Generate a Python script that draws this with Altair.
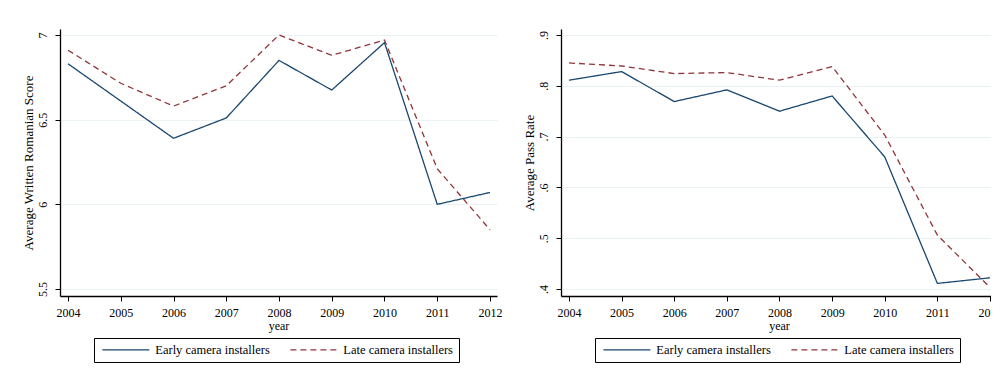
import altair as alt
import pandas as pd

years = [2004, 2005, 2006, 2007, 2008, 2009, 2010, 2011, 2012]
groups = ["Early camera installers", "Late camera installers"]

early_score = [6.83, 6.61, 6.39, 6.51, 6.85, 6.675, 6.955, 6.00, 6.07]
late_score = [6.91, 6.715, 6.58, 6.70, 7.00, 6.88, 6.97, 6.21, 5.85]

early_pass = [0.811, 0.828, 0.769, 0.792, 0.750, 0.780, 0.660, 0.411, 0.422]
late_pass = [0.845, 0.839, 0.824, 0.826, 0.811, 0.838, 0.703, 0.506, 0.403]

score_ticks = [5.5, 6, 6.5, 7]
pass_ticks = [0.4, 0.5, 0.6, 0.7, 0.8, 0.9]

FONT = "Liberation Serif"
COLORS = ["#1a476f", "#90353b"]


def long_table(early, late):
    rows = []
    for yr, e, l in zip(years, early, late):
        rows.append({"year": yr, "group": groups[0], "value": e})
        rows.append({"year": yr, "group": groups[1], "value": l})
    return pd.DataFrame(rows)


def make_legend():
    return alt.Legend(
        title=None, orient="none", legendX=34, legendY=309,
        direction="horizontal", symbolType="M-1,0H13", symbolSize=45.08,
        symbolStrokeWidth=1.3, labelFont=FONT,
        labelFontSize=12.5, labelColor="black", columnPadding=17,
        labelOffset=43.3, padding=5.5, strokeColor="black",
        fillColor="white", labelLimit=300,
    )


def panel(df, ytitle, ydomain, yticks, label_expr, width):
    return alt.Chart(df).mark_line(strokeWidth=1.3).encode(
        x=alt.X(
            "year:Q",
            scale=alt.Scale(domain=[2003.848, 2012.133], nice=False, zero=False),
            axis=alt.Axis(
                values=years, format="d", title="year", grid=False,
                domainColor="black", domainWidth=1.3, tickColor="black",
                tickSize=5, tickWidth=1, labelFont=FONT, labelFontSize=12,
                labelColor="black", titleFont=FONT, titleFontSize=12,
                titleColor="black", titleFontWeight="normal",
                labelPadding=6, titlePadding=2,
            ),
        ),
        y=alt.Y(
            "value:Q",
            scale=alt.Scale(domain=ydomain, nice=False, zero=False),
            axis=alt.Axis(
                values=yticks, labelExpr=label_expr, title=ytitle,
                grid=True, gridColor="#eaf2f3", gridWidth=1,
                domainColor="black", domainWidth=1.3, tickColor="black",
                tickSize=5, tickWidth=1, labelAngle=270, labelFont=FONT,
                labelFontSize=12, labelColor="black", labelPadding=6,
                titleFont=FONT, titleFontSize=13, titleColor="black",
                titleFontWeight="normal", titlePadding=4,
                minExtent=21, maxExtent=21,
            ),
        ),
        color=alt.Color(
            "group:N",
            scale=alt.Scale(domain=groups, range=COLORS),
            legend=make_legend(),
        ),
        strokeDash=alt.StrokeDash(
            "group:N",
            scale=alt.Scale(domain=groups, range=[[1, 0], [6, 4]]),
            legend=make_legend(),
        ),
    ).properties(width=width, height=267)


left = panel(
    long_table(early_score, late_score),
    "Average Written Romanian Score",
    [5.4587, 7.0354],
    score_ticks,
    "format(datum.value, '~g')",
    437,
)

right = panel(
    long_table(early_pass, late_pass),
    "Average Pass Rate",
    [0.3862, 0.9118],
    pass_ticks,
    "replace(format(datum.value, '.1f'), '0.', '.')",
    436,
)

chart = alt.hconcat(left, right, spacing=64, bounds="flush").resolve_scale(
    color="independent", strokeDash="independent", x="independent", y="independent"
).resolve_legend(
    color="independent", strokeDash="independent"
).properties(
    autosize=alt.AutoSizeParams(type="none"),
    padding={"left": 52, "top": 21, "right": 931, "bottom": 332},
    background="white",
).configure_view(strokeWidth=0)

chart.save("out.html", embed_options={"renderer": "svg", "actions": False})
